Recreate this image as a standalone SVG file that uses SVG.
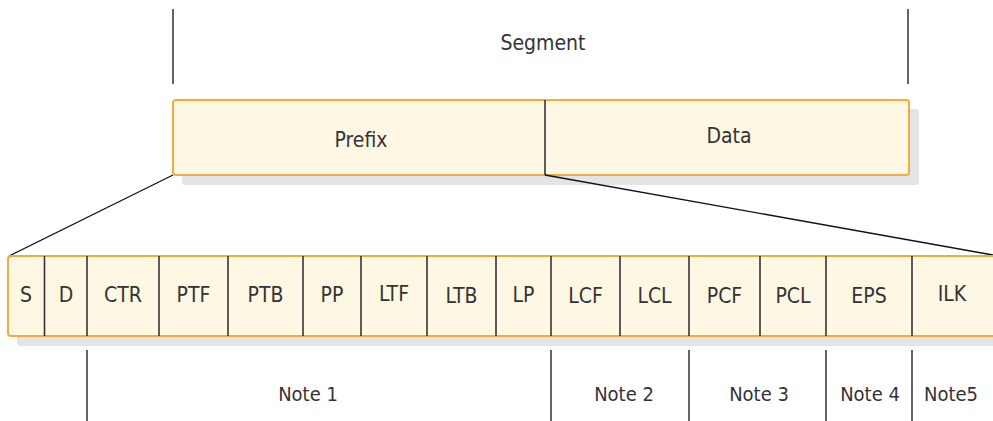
<svg xmlns="http://www.w3.org/2000/svg" width="993" height="421" viewBox="0 0 993 421">
<style>
text{font-family:"DejaVu Sans Condensed","DejaVu Sans",sans-serif;font-stretch:condensed;font-size:21px;fill:#333;text-anchor:middle}
.note{font-size:20px}
.box{fill:#fdf7e4;stroke:#f2ac3c;stroke-width:2}
.shadow{fill:#e4e4e6}
.div{stroke:#333;stroke-width:1.6}
.ln{stroke:#111;stroke-width:1.3;fill:none}
</style>
<rect width="993" height="421" fill="#fff"/>
<g id="segment">
<line class="ln" x1="173" y1="9" x2="173" y2="84"/>
<line class="ln" x1="908" y1="9" x2="908" y2="84"/>
<text x="543" y="50">Segment</text>
</g>
<g id="prefix-data">
<rect class="shadow" x="182" y="109" width="737" height="76" rx="3"/>
<rect class="box" x="173" y="100" width="736" height="75" rx="3"/>
<line class="div" x1="545" y1="100" x2="545" y2="175"/>
<text x="361" y="147">Prefix</text>
<text x="729" y="143">Data</text>
</g>
<g id="connectors">
<line class="ln" x1="173" y1="175" x2="9" y2="256"/>
<line class="ln" x1="545" y1="175" x2="993" y2="255"/>
</g>
<g id="fields">
<rect class="shadow" x="17" y="266" width="990" height="80" rx="3"/>
<rect class="box" x="8" y="256" width="1000" height="80" rx="3"/>
<g class="div">
<line x1="44.5" y1="256" x2="44.5" y2="336"/>
<line x1="87" y1="256" x2="87" y2="336"/>
<line x1="159" y1="256" x2="159" y2="336"/>
<line x1="228" y1="256" x2="228" y2="336"/>
<line x1="303" y1="256" x2="303" y2="336"/>
<line x1="361" y1="256" x2="361" y2="336"/>
<line x1="427" y1="256" x2="427" y2="336"/>
<line x1="496" y1="256" x2="496" y2="336"/>
<line x1="551" y1="256" x2="551" y2="336"/>
<line x1="620" y1="256" x2="620" y2="336"/>
<line x1="689" y1="256" x2="689" y2="336"/>
<line x1="760" y1="256" x2="760" y2="336"/>
<line x1="826" y1="256" x2="826" y2="336"/>
<line x1="912" y1="256" x2="912" y2="336"/>
</g>
<text x="26" y="302">S</text>
<text x="66" y="302">D</text>
<text x="123" y="302">CTR</text>
<text x="193.5" y="302">PTF</text>
<text x="265.5" y="302">PTB</text>
<text x="332" y="302">PP</text>
<text x="394" y="301">LTF</text>
<text x="461.5" y="303">LTB</text>
<text x="523.5" y="302">LP</text>
<text x="585.5" y="303">LCF</text>
<text x="654.5" y="303">LCL</text>
<text x="724.5" y="303">PCF</text>
<text x="793" y="303">PCL</text>
<text x="869" y="303">EPS</text>
<text x="952" y="301">ILK</text>
</g>
<g id="notes">
<g class="ln">
<line x1="87" y1="350" x2="87" y2="421"/>
<line x1="551" y1="350" x2="551" y2="421"/>
<line x1="689" y1="350" x2="689" y2="421"/>
<line x1="826" y1="350" x2="826" y2="421"/>
<line x1="912" y1="350" x2="912" y2="421"/>
</g>
<text class="note" x="308" y="401">Note 1</text>
<text class="note" x="624" y="401">Note 2</text>
<text class="note" x="759" y="401">Note 3</text>
<text class="note" x="870" y="401">Note 4</text>
<text class="note" x="951" y="401">Note5</text>
</g>
</svg>
